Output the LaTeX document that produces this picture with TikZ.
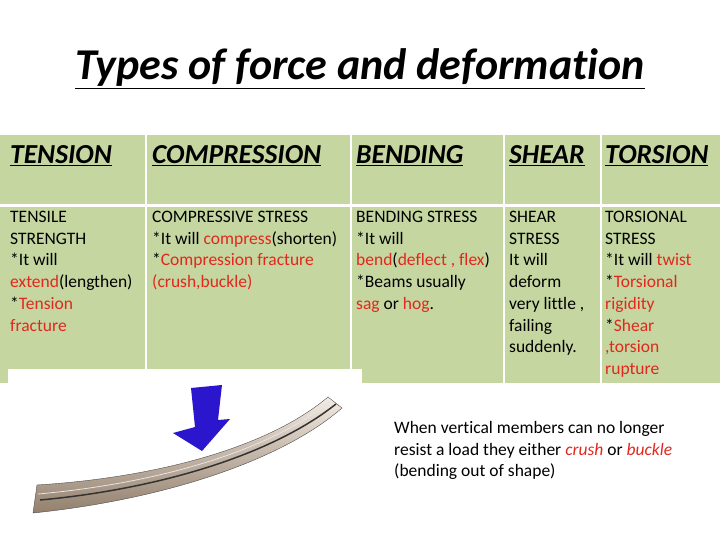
\documentclass[tikz,border=0pt]{standalone}
\usepackage{fontspec}
\setmainfont[Ligatures={NoCommon,NoRare,NoContextual}]{Carlito}
\begin{document}
\begin{tikzpicture}[x=1pt,y=-1pt,
  cell/.style={fill=tgreen,draw=none},
  hd/.style={anchor=base west,inner sep=0,font=\fontsize{27.5}{32}\selectfont\bfseries\itshape},
  bd/.style={anchor=north west,inner sep=0,align=left,font=\fontsize{17.5}{21.7}\selectfont},
  nt/.style={anchor=north west,inner sep=0,align=left,font=\fontsize{17.5}{21.7}\selectfont}]
\definecolor{tgreen}{RGB}{197,214,160}
\definecolor{tred}{RGB}{226,40,28}
\definecolor{tblue}{RGB}{43,22,205}
\newcommand{\rd}[1]{\textcolor{tred}{#1}}
\useasboundingbox (0,0) rectangle (720,540);
\fill[white] (0,0) rectangle (720,540);
\node[inner sep=0,anchor=base,font=\fontsize{44}{50}\selectfont\bfseries\itshape] (title) at (360,80) {\underline{Types of force and deformation}};
% table cells
\foreach \a/\b in {0/145,147/350,352/503,505/600,602/720}{
  \fill[cell] (\a,135) rectangle (\b,204);
  \fill[cell] (\a,207) rectangle (\b,383);
}
\fill[white] (8,369) rectangle (362,385);
\node[hd] (h1) at (10,164) {\underline{TENSION}};
\node[hd] (h2) at (152,164) {\underline{COMPRESSION}};
\node[hd] (h3) at (356,164) {\underline{BENDING}};
\node[hd] (h4) at (509,164) {\underline{SHEAR}};
\node[hd] (h5) at (605,164) {\underline{TORSION}};
\node[bd] (b1) at (10,211) {TENSILE\\STRENGTH\\*It will\\\rd{extend}(lengthen)\\*\rd{Tension}\\\rd{fracture}};
\node[bd] (b2) at (152,211) {COMPRESSIVE STRESS\\*It will \rd{compress}(shorten)\\*\rd{Compression fracture}\\\rd{(crush,buckle)}};
\node[bd] (b3) at (356,211) {BENDING STRESS\\*It will\\\rd{bend}(\rd{deflect , flex})\\*Beams usually\\\rd{sag} or \rd{hog}.};
\node[bd] (b4) at (509,211) {SHEAR\\STRESS\\It will\\deform\\very little ,\\failing\\suddenly.};
\node[bd] (b5) at (605,211) {TORSIONAL\\STRESS\\*It will \rd{twist}\\*\rd{Torsional}\\\rd{rigidity}\\*\rd{Shear}\\\rd{,torsion}\\\rd{rupture}};
\node[nt] (note) at (394,421) {When vertical members can no longer\\resist a load they either \textit{\rd{crush}} or \textit{\rd{buckle}}\\(bending out of shape)};
% beam
\shade[top color=gray!15!brown!15,bottom color=gray!70!brown,draw=gray!60!black,line width=0.4pt]
  (37,485) .. controls (150,478) and (265,450) .. (328,397) -- (342,408)
  .. controls (280,462) and (160,500) .. (33,513) -- cycle;
\draw[gray!40!black,line width=1.5pt] (40,500) .. controls (150,490) and (268,458) .. (336,404);
\draw[gray!20,line width=0.8pt] (38,494) .. controls (150,484) and (266,454) .. (332,400);
% arrow
\fill[tblue] (191,388) -- (222,385) -- (218,420) -- (230,419) -- (202,451) -- (173,433) -- (195,427) -- cycle;
\end{tikzpicture}
\end{document}
